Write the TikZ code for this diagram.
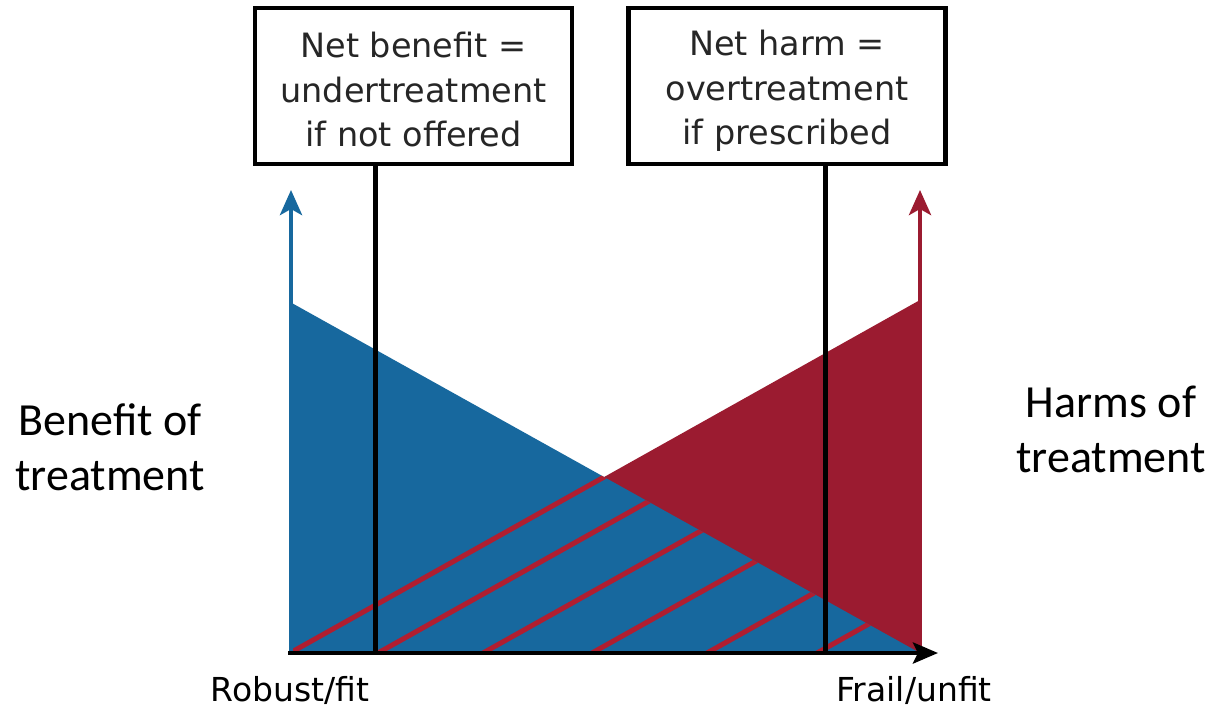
\documentclass[tikz,border=0pt]{standalone}
\usepackage{fontspec}
\setmainfont{DejaVu Sans}
\newfontfamily\calibri{Carlito}
\usetikzlibrary{arrows.meta}
\definecolor{bblue}{HTML}{17689E}
\definecolor{rred}{HTML}{9B1B30}
\definecolor{hred}{HTML}{B01E30}
\begin{document}
\begin{tikzpicture}[x=1pt,y=-1pt,
  box/.style={draw=black, line width=4.5pt, minimum width=317pt, minimum height=156pt, inner sep=0pt},
  boxtext/.style={align=center, font=\fontsize{33.5}{44.5}\selectfont, text=black!85, inner sep=0pt},
  side/.style={align=center, font=\calibri\fontsize{46}{55}\selectfont},
  axlabel/.style={font=\fontsize{33}{38}\selectfont, inner sep=0pt},
  hatch/.style={hred, line width=5pt},
  stem/.style={black, line width=5pt},
  tipA/.style={-{Stealth[length=25pt,width=22pt,inset=6pt]}}]
\useasboundingbox (0,0) rectangle (1217,710);
\fill[white] (0,0) rectangle (1217,710);
% key points
\coordinate (O) at (290,653);
\coordinate (BT) at (290,302);
\coordinate (BR) at (920,653);
\coordinate (RT) at (920,300);
\coordinate (AX) at (938,653);
\coordinate (vL) at (375,653);
\coordinate (vR) at (825,653);
\coordinate (bA) at (291,190);
\coordinate (rA) at (920,190);
% areas
\fill[rred] (O) -- (RT) -- (BR) -- cycle;
\fill[bblue] (BT) -- (O) -- (BR) -- cycle;
\begin{scope}
  \clip (BT) -- (O) -- (BR) -- cycle;
  \foreach \x in {290,378,483,592,707,817}
    \draw[hatch] (\x,653) -- ++(630,-353);
\end{scope}
% boxes
\node[box] (lb) at (413.5,86) {};
\node[boxtext] (lbt) at (413.5,90) {Net benefit =\\undertreatment\\if not offered};
\node[box] (rb) at (787,86) {};
\node[boxtext] (rbt) at (787,91) {Net harm =\\overtreatment\\if prescribed};
\draw[stem] (lb.south -| vL) -- (vL);
\draw[stem] (rb.south -| vR) -- (vR);
% axes
\draw[bblue, line width=4.5pt, tipA] ([xshift=1pt]O) -- (bA);
\draw[rred, line width=4.5pt, tipA] (BR) -- (rA);
\draw[black, line width=4.5pt, -{Stealth[length=25pt,width=21pt,inset=5pt]}] ([xshift=-2pt]O) -- (AX);
% labels
\node[side] (ben) at (110,447) {Benefit of\\treatment};
\node[side] (harm) at (1111,429) {Harms of\\treatment};
\node[axlabel] (rob) at (290,690) {Robust/fit};
\node[axlabel] (fra) at (914,690) {Frail/unfit};
\end{tikzpicture}
\end{document}
